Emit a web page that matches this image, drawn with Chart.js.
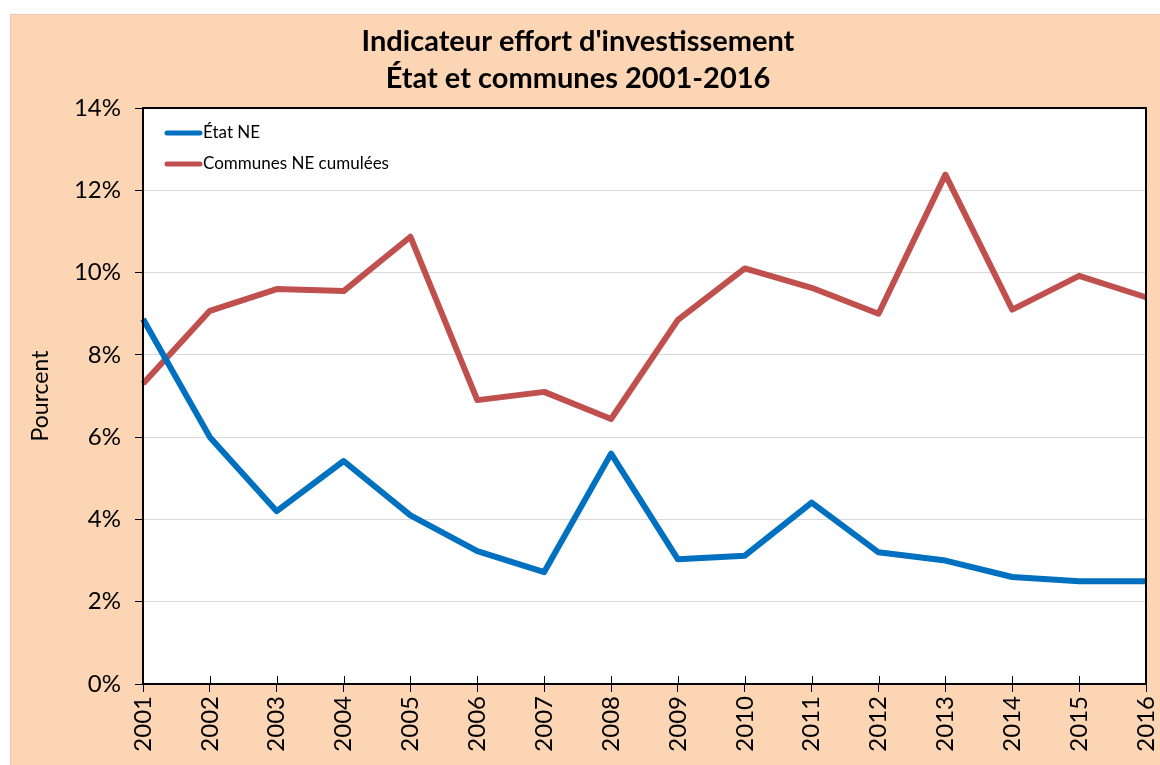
<!DOCTYPE html>
<html><head><meta charset="utf-8">
<script src="https://cdn.jsdelivr.net/npm/chart.js@4"></script>
<style>html,body{margin:0;padding:0;background:#fff;}#wrap{width:1160px;height:765px;position:relative;}</style>
</head><body><div id="wrap"><canvas id="c" width="1160" height="765"></canvas></div>
<script>
const years = ['2001','2002','2003','2004','2005','2006','2007','2008','2009','2010','2011','2012','2013','2014','2015','2016'];
const etatNE = [8.87,6.0,4.2,5.42,4.1,3.23,2.72,5.6,3.03,3.12,4.41,3.2,3.0,2.6,2.5,2.5];
const communesNE = [7.3,9.07,9.6,9.55,10.87,6.9,7.1,6.44,8.85,10.1,9.63,9.0,12.38,9.1,9.92,9.4];
const seriesLabels = ['État NE','Communes NE cumulées'];
const titleLines = ["Indicateur effort d'investissement","État et communes 2001-2016"];
const yTitle = 'Pourcent';
const FONT = 'Lato, "Open Sans", sans-serif';

const bgPlugin = {
  id:'bg',
  beforeDraw(chart){
    const ctx = chart.ctx;
    ctx.save();
    ctx.fillStyle='#fff';ctx.fillRect(0,0,1160,765);
    ctx.fillStyle='#FCD5B4';ctx.fillRect(10,14,1150,751);
    ctx.strokeStyle='#F2C4C0';ctx.lineWidth=1;
    ctx.beginPath();ctx.moveTo(10,14.5);ctx.lineTo(1160,14.5);ctx.moveTo(10.5,14);ctx.lineTo(10.5,765);ctx.stroke();
    const a = chart.chartArea;
    ctx.fillStyle='#fff';ctx.fillRect(a.left,a.top,a.right-a.left,a.bottom-a.top);
    ctx.restore();
  },
  afterDatasetsDraw(chart){
    const ctx = chart.ctx, a = chart.chartArea;
    ctx.save();
    ctx.strokeStyle='#000';ctx.lineWidth=2;
    ctx.strokeRect(a.left,a.top,a.right-a.left,a.bottom-a.top);
    const xs = chart.scales.x;
    ctx.lineWidth=1;
    ctx.beginPath();
    for(let i=0;i<xs.ticks.length;i++){
      const x = Math.round(xs.getPixelForTick(i))+0.5;
      ctx.moveTo(x,a.bottom-8);ctx.lineTo(x,a.bottom);
    }
    ctx.stroke();
    ctx.font = '17px '+FONT;
    ctx.textBaseline='middle';
    chart.data.datasets.forEach((ds,i)=>{
      const y = a.top + 25 + i*31;
      ctx.strokeStyle = ds.borderColor; ctx.lineWidth=5; ctx.lineCap='round';
      ctx.beginPath();ctx.moveTo(a.left+24,y);ctx.lineTo(a.left+57,y);ctx.stroke();
      ctx.fillStyle='#000';ctx.fillText(ds.label,a.left+60,y);
    });
    ctx.restore();
  }
};

new Chart(document.getElementById('c'),{
  type:'line',
  data:{labels:years,datasets:[
    {label:seriesLabels[0],data:etatNE,borderColor:'#0070C0',backgroundColor:'#0070C0',borderWidth:6,pointRadius:0,tension:0,borderCapStyle:'butt',borderJoinStyle:'round'},
    {label:seriesLabels[1],data:communesNE,borderColor:'#C0504D',backgroundColor:'#C0504D',borderWidth:6,pointRadius:0,tension:0,borderCapStyle:'butt',borderJoinStyle:'round'}
  ]},
  options:{
    responsive:false,animation:false,
    layout:{padding:{left:10,right:14,top:14,bottom:0}},
    plugins:{
      legend:{display:false},tooltip:{enabled:false},
      title:{display:true,text:titleLines,color:'#000',font:{family:FONT,size:29,weight:'bold',lineHeight:1.25},padding:{top:10,bottom:11.5}}
    },
    scales:{
      x:{
        offset:false,
        grid:{drawOnChartArea:false,drawTicks:true,tickLength:8,color:'#000',lineWidth:1},
        border:{display:true,color:'#000',width:2},
        ticks:{color:'#000',font:{family:FONT,size:24},minRotation:90,maxRotation:90,padding:4,autoSkip:false},
        afterFit(s){s.height=81;s.paddingLeft=0;s.paddingRight=0;}
      },
      y:{
        min:0,max:14,
        grid:{color:'#D9D9D9',lineWidth:1,tickLength:8,tickColor:'#000'},
        border:{display:true,color:'#000',width:2},
        ticks:{stepSize:2,color:'#000',font:{family:FONT,size:24},padding:14,callback:v=>v+'%'},
        title:{display:true,text:yTitle,color:'#000',font:{family:FONT,size:23},padding:{top:17,bottom:0}},
        afterFit(s){s.width=133;s.paddingTop=0;s.paddingBottom=0;}
      }
    }
  },
  plugins:[bgPlugin]
});
</script></body></html>
